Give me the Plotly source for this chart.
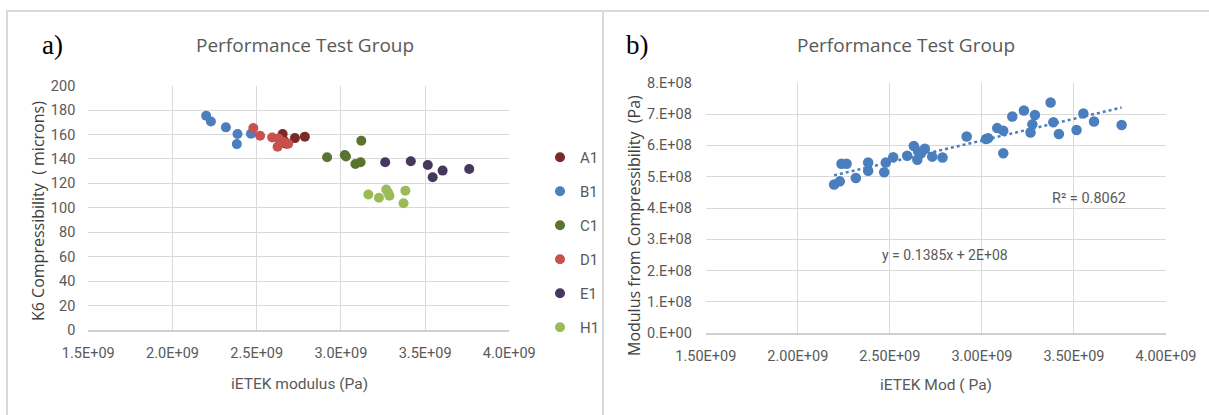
import plotly.graph_objects as go

W, H = 1209, 415

# ---------------- data: chart a) ----------------
series_names = ["A1", "B1", "C1", "D1", "E1", "H1"]
series_colors = ["#7a2b29", "#4a7ebf", "#5a7430", "#c8504d", "#47375e", "#9bbb59"]

a1_x = [2.654e9, 2.675e9, 2.727e9, 2.786e9, 2.662e9]
a1_y = [160.4, 152.5, 157.1, 158.2, 155.0]
b1_x = [2.200e9, 2.228e9, 2.317e9, 2.386e9, 2.382e9, 2.466e9]
b1_y = [175.4, 170.7, 165.9, 160.4, 152.2, 160.6]
c1_x = [2.918e9, 3.023e9, 3.030e9, 3.086e9, 3.117e9, 3.121e9]
c1_y = [141.4, 143.3, 142.0, 135.9, 137.3, 155.0]
d1_x = [2.480e9, 2.520e9, 2.592e9, 2.630e9, 2.624e9, 2.687e9, 2.660e9]
d1_y = [165.3, 159.0, 157.6, 156.8, 150.0, 152.5, 154.0]
e1_x = [3.263e9, 3.415e9, 3.516e9, 3.545e9, 3.604e9, 3.762e9]
e1_y = [137.3, 138.1, 135.1, 125.0, 130.5, 131.8]
h1_x = [3.163e9, 3.226e9, 3.269e9, 3.288e9, 3.383e9, 3.372e9, 3.280e9]
h1_y = [110.9, 108.2, 115.0, 110.0, 114.1, 103.8, 112.5]

a_xticks = [1.5e9, 2.0e9, 2.5e9, 3.0e9, 3.5e9, 4.0e9]
a_xticktext = ["1.5E+09", "2.0E+09", "2.5E+09", "3.0E+09", "3.5E+09", "4.0E+09"]
a_yticks = [0, 20, 40, 60, 80, 100, 120, 140, 160, 180, 200]

# ---------------- data: chart b) ----------------
b_x = [2.197e9, 2.228e9, 2.237e9, 2.265e9, 2.315e9, 2.382e9, 2.382e9, 2.469e9,
       2.478e9, 2.518e9, 2.594e9, 2.630e9, 2.649e9, 2.654e9, 2.690e9, 2.670e9,
       2.730e9, 2.786e9, 2.917e9, 3.022e9, 3.034e9, 3.083e9, 3.116e9, 3.116e9,
       3.165e9, 3.228e9, 3.264e9, 3.274e9, 3.288e9, 3.373e9, 3.388e9, 3.418e9,
       3.514e9, 3.551e9, 3.609e9, 3.759e9]
b_y = [4.75e8, 4.85e8, 5.41e8, 5.41e8, 4.96e8, 5.45e8, 5.19e8, 5.14e8,
       5.45e8, 5.62e8, 5.67e8, 5.98e8, 5.54e8, 5.80e8, 5.89e8, 5.75e8,
       5.64e8, 5.61e8, 6.28e8, 6.20e8, 6.23e8, 6.55e8, 6.47e8, 5.75e8,
       6.92e8, 7.11e8, 6.41e8, 6.67e8, 6.97e8, 7.37e8, 6.74e8, 6.36e8,
       6.49e8, 7.02e8, 6.76e8, 6.65e8]
trend_slope = 0.1385
trend_intercept = 2e8
trend_label = "y = 0.1385x + 2E+08"
r2_label = "R² = 0.8062"

b_xticks = [1.5e9, 2.0e9, 2.5e9, 3.0e9, 3.5e9, 4.0e9]
b_xticktext = ["1.50E+09", "2.00E+09", "2.50E+09", "3.00E+09", "3.50E+09", "4.00E+09"]
b_yticks = [0, 1e8, 2e8, 3e8, 4e8, 5e8, 6e8, 7e8, 8e8]
b_yticktext = ["0.E+00", "1.E+08", "2.E+08", "3.E+08", "4.E+08", "5.E+08", "6.E+08", "7.E+08", "8.E+08"]


def fx(p):
    return p / W


def fy(p):
    return 1 - p / H


NARROW = "Roboto, Liberation Sans, sans-serif"
UI = "Open Sans, Noto Sans, sans-serif"
TICK = "#595959"
GRID = "#d9d9d9"

fig = go.Figure()

a_series = [(a1_x, a1_y), (b1_x, b1_y), (c1_x, c1_y), (d1_x, d1_y), (e1_x, e1_y), (h1_x, h1_y)]
for name, color, (xs, ys) in zip(series_names, series_colors, a_series):
    fig.add_trace(go.Scatter(
        x=xs, y=ys, mode="markers", name=name, legendgroup=name,
        marker=dict(color=color, size=10, line=dict(width=0)),
        xaxis="x", yaxis="y"))

fig.add_trace(go.Scatter(
    x=b_x, y=b_y, mode="markers", showlegend=False,
    marker=dict(color="#4a7ebf", size=10.5, line=dict(width=0)),
    xaxis="x2", yaxis="y2"))

tx = [min(b_x), max(b_x)]
ty = [trend_slope * v + trend_intercept for v in tx]
fig.add_trace(go.Scatter(
    x=tx, y=ty, mode="lines", showlegend=False,
    line=dict(color="#4a7ebf", width=2.5, dash="dot"),
    xaxis="x2", yaxis="y2"))

axis_common = dict(showgrid=True, gridcolor=GRID, gridwidth=1, zeroline=False,
                   ticks="", automargin=False,
                   tickfont=dict(family=NARROW, size=14.5, color=TICK))

fig.update_layout(
    width=W, height=H, margin=dict(l=0, r=0, t=0, b=0, autoexpand=False),
    paper_bgcolor="white", plot_bgcolor="white",
    xaxis=dict(domain=[fx(88.3), fx(509.3)], range=[1.5e9, 4.0e9],
               tickvals=a_xticks, ticktext=a_xticktext, anchor="y",
               showline=True, linecolor="#cfcfcf", linewidth=1.5,
               ticklabelstandoff=9, **axis_common),
    yaxis=dict(domain=[fy(330), fy(85.7)], range=[0, 200],
               tickvals=a_yticks, anchor="x", ticklabelstandoff=12, **axis_common),
    xaxis2=dict(domain=[fx(705.8), fx(1166)], range=[1.5e9, 4.0e9],
                tickvals=b_xticks, ticktext=b_xticktext, anchor="y2",
                showline=True, linecolor="#cfcfcf", linewidth=1.5,
                ticklabelstandoff=9, **axis_common),
    yaxis2=dict(domain=[fy(333.3), fy(82.7)], range=[0, 8e8],
                tickvals=b_yticks, ticktext=b_yticktext, anchor="x2",
                ticklabelstandoff=13, **axis_common),
    legend=dict(x=fx(540), y=fy(141), xanchor="left", yanchor="top",
                font=dict(family=NARROW, size=15, color=TICK),
                tracegroupgap=11.5, itemwidth=30, bgcolor="rgba(0,0,0,0)"),
    showlegend=True,
)

ann = []


def text(x, y, s, size, color, family, angle=0, xanchor="center"):
    ann.append(dict(x=fx(x), y=fy(y), xref="paper", yref="paper", text=s,
                    showarrow=False, textangle=angle, xanchor=xanchor, yanchor="middle",
                    font=dict(size=size, color=color, family=family)))


text(305, 45, "Performance Test Group", 19, TICK, UI)
text(906, 45, "Performance Test Group", 19, TICK, UI)
text(52, 45, "a)", 27, "#000000", "Liberation Serif, Times New Roman, serif")
text(637, 45, "b)", 27, "#000000", "Liberation Serif, Times New Roman, serif")
text(38, 211, "K6 Compressibility \u00a0( microns)", 16, "#404040", UI, angle=-90)
text(634, 225, "Modulus from Compressibility \u00a0(Pa)", 16, "#404040", UI, angle=-90)
text(299, 384, "iETEK modulus (Pa)", 15.5, TICK, NARROW)
text(936, 385, "iETEK Mod ( Pa)", 15.5, TICK, NARROW)
text(1089, 199, r2_label, 14.5, TICK, NARROW)
text(945, 255, trend_label, 14, TICK, NARROW)
fig.update_layout(annotations=ann)

shapes = [
    dict(type="rect", xref="paper", yref="paper", x0=fx(7), x1=fx(603), y0=fy(430), y1=fy(11),
         line=dict(color="#d9d9d9", width=2), fillcolor="rgba(0,0,0,0)", layer="below"),
    dict(type="rect", xref="paper", yref="paper", x0=fx(603), x1=fx(1220), y0=fy(430), y1=fy(11),
         line=dict(color="#d9d9d9", width=2), fillcolor="rgba(0,0,0,0)", layer="below"),
]
fig.update_layout(shapes=shapes)

fig.write_html("out.html")
